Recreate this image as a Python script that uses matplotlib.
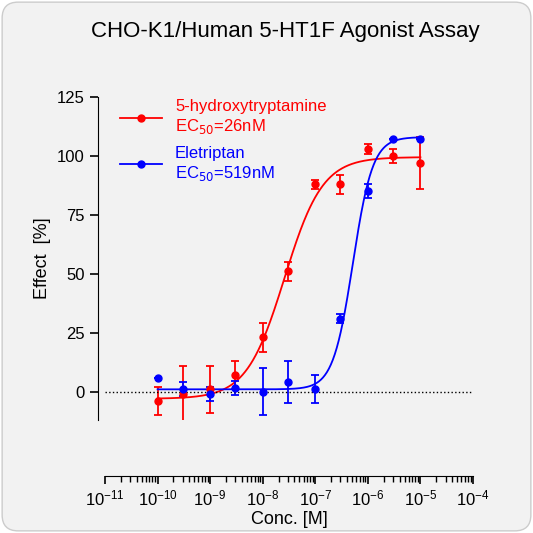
import numpy as np
import matplotlib.pyplot as plt
from matplotlib.patches import FancyBboxPatch

plt.rcParams['font.family'] = ['Liberation Sans', 'DejaVu Sans']

conc = [1e-10, 3e-10, 1e-9, 3e-9, 1e-8, 3e-8, 1e-7, 3e-7, 1e-6, 3e-6, 1e-5]
ht_y = [-4, -1, 1, 7, 23, 51, 88, 88, 103, 100, 97]
ht_err = [6, 12, 10, 6, 6, 4, 2, 4, 2, 3, 11]
ele_y = [6, 1, -1, 1.5, 0, 4, 1, 31, 85, 107, 107]
ele_err = [0, 3, 3, 3, 10, 9, 6, 2, 3, 0, 0]
ht_fit = dict(bottom=-3, top=99.5, ec50=2.6e-8, hill=1.2)
ele_fit = dict(bottom=1, top=108, ec50=5.19e-7, hill=2.3)

def curve(x, p):
    return p['bottom'] + (p['top'] - p['bottom']) / (1 + (p['ec50'] / x) ** p['hill'])

bg = '#f2f2f2'
fig = plt.figure(figsize=(5.33, 5.33), dpi=100)
fig.patch.set_facecolor('white')
fig.patches.append(FancyBboxPatch((0.004, 0.004), 0.992, 0.992, boxstyle='round,pad=0,rounding_size=0.03',
                                  transform=fig.transFigure, facecolor=bg, edgecolor='#cccccc', lw=1,
                                  zorder=-10))
ax = fig.add_axes([105/533, 1-420/533, 368/533, (420-97)/533])
ax.set_facecolor('none')
ax.set_xscale('log')
ax.set_xlim(1e-11, 1e-4)
ax.set_ylim(-12, 125)
xs = np.logspace(-10, -5, 400)
for y, e, p, c, lab in [(ht_y, ht_err, ht_fit, 'red', '5-hydroxytryptamine\nEC$_{50}$=26nM'),
                        (ele_y, ele_err, ele_fit, 'blue', 'Eletriptan\nEC$_{50}$=519nM')]:
    ax.plot(xs, curve(xs, p), color=c, lw=1.3)
    ax.errorbar(conc, y, yerr=e, fmt='o', color=c, ms=5, capsize=3, elinewidth=1.3, capthick=1.3)
    ax.plot([], [], '-o', color=c, ms=5, lw=1.3, label=lab)
ax.axhline(0, color='black', ls=':', lw=1)
ax.set_yticks([0, 25, 50, 75, 100, 125])
ax.set_xticks([10.0**k for k in range(-11, -3)])
ax.xaxis.set_minor_locator(plt.matplotlib.ticker.LogLocator(subs=np.arange(2, 10), numticks=20))
ax.xaxis.set_minor_formatter(plt.NullFormatter())
for s in ['top', 'right']:
    ax.spines[s].set_visible(False)
ax.spines['bottom'].set_position(('outward', 40))
ax.spines['left'].set_position(('outward', 5))
ax.spines['left'].set_bounds(-12, 125)
ax.tick_params(labelsize=12, width=1.2, length=6)
ax.tick_params(which='minor', length=4, width=1)
ax.set_xlabel('Conc. [M]', fontsize=13, labelpad=2)
ax.set_ylabel('Effect  [%]', fontsize=13)
leg = ax.legend(loc='upper left', bbox_to_anchor=(0.0, 1.04), frameon=False, fontsize=12, handlelength=2.5,
                labelspacing=0.6)
for t, c in zip(leg.get_texts(), ['red', 'blue']):
    t.set_color(c)
fig.text(0.535, 0.93, 'CHO-K1/Human 5-HT1F Agonist Assay', ha='center', fontsize=16)
fig.savefig('out.png', dpi=100, facecolor=fig.get_facecolor())
